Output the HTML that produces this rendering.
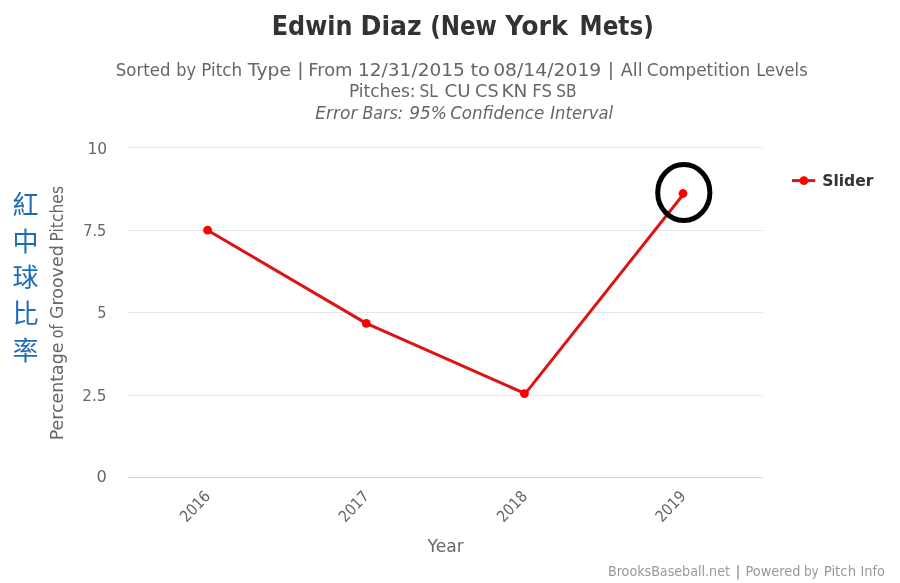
<!DOCTYPE html>
<html>
<head>
<meta charset="utf-8">
<style>
html,body{margin:0;padding:0;background:#fff;}
body{width:900px;height:583px;overflow:hidden;}
svg{display:block;will-change:transform;}
text{font-family:"DejaVu Sans","Liberation Sans",sans-serif;}
.cjk{font-family:"Noto Sans CJK TC","Noto Sans CJK SC",sans-serif;}
</style>
</head>
<body>
<svg width="900" height="583" viewBox="0 0 900 583">
<rect x="0" y="0" width="900" height="583" fill="#ffffff"/>
<!-- title -->
<text y="34.7" font-size="26.8" fill="#333333" font-weight="bold"><tspan x="271.75" textLength="80.70" lengthAdjust="spacingAndGlyphs">Edwin</tspan> <tspan x="360.53" textLength="61.19" lengthAdjust="spacingAndGlyphs">Diaz</tspan> <tspan x="430.14" textLength="66.79" lengthAdjust="spacingAndGlyphs">(New</tspan> <tspan x="505.25" textLength="62.61" lengthAdjust="spacingAndGlyphs">York</tspan> <tspan x="579.62" textLength="74.13" lengthAdjust="spacingAndGlyphs">Mets)</tspan></text>
<!-- subtitle -->
<text y="75.5" font-size="17.3" fill="#666666"><tspan x="115.83" textLength="54.56" lengthAdjust="spacingAndGlyphs">Sorted</tspan> <tspan x="176.35" textLength="19.76" lengthAdjust="spacingAndGlyphs">by</tspan> <tspan x="201.22" textLength="40.90" lengthAdjust="spacingAndGlyphs">Pitch</tspan> <tspan x="247.89" textLength="43.08" lengthAdjust="spacingAndGlyphs">Type</tspan> <tspan x="297.25" textLength="6.34" lengthAdjust="spacingAndGlyphs">|</tspan> <tspan x="308.21" textLength="44.37" lengthAdjust="spacingAndGlyphs">From</tspan> <tspan x="357.96" textLength="106.90" lengthAdjust="spacingAndGlyphs">12/31/2015</tspan> <tspan x="470.52" textLength="19.43" lengthAdjust="spacingAndGlyphs">to</tspan> <tspan x="493.18" textLength="108.11" lengthAdjust="spacingAndGlyphs">08/14/2019</tspan> <tspan x="607.85" textLength="6.34" lengthAdjust="spacingAndGlyphs">|</tspan> <tspan x="620.82" textLength="21.84" lengthAdjust="spacingAndGlyphs">All</tspan> <tspan x="646.87" textLength="103.46" lengthAdjust="spacingAndGlyphs">Competition</tspan> <tspan x="756.17" textLength="51.47" lengthAdjust="spacingAndGlyphs">Levels</tspan></text>
<text y="97.2" font-size="17.3" fill="#666666"><tspan x="348.89" textLength="66.72" lengthAdjust="spacingAndGlyphs">Pitches:</tspan> <tspan x="419.60" textLength="18.30" lengthAdjust="spacingAndGlyphs">SL</tspan> <tspan x="444.59" textLength="26.17" lengthAdjust="spacingAndGlyphs">CU</tspan> <tspan x="475.13" textLength="23.61" lengthAdjust="spacingAndGlyphs">CS</tspan> <tspan x="501.45" textLength="25.98" lengthAdjust="spacingAndGlyphs">KN</tspan> <tspan x="532.25" textLength="19.72" lengthAdjust="spacingAndGlyphs">FS</tspan> <tspan x="556.20" textLength="20.29" lengthAdjust="spacingAndGlyphs">SB</tspan></text>
<text y="118.6" font-size="17.3" fill="#666666" font-style="italic"><tspan x="315.27" textLength="42.13" lengthAdjust="spacingAndGlyphs">Error</tspan> <tspan x="362.40" textLength="40.82" lengthAdjust="spacingAndGlyphs">Bars:</tspan> <tspan x="409.14" textLength="37.75" lengthAdjust="spacingAndGlyphs">95%</tspan> <tspan x="450.13" textLength="94.20" lengthAdjust="spacingAndGlyphs">Confidence</tspan> <tspan x="550.29" textLength="62.69" lengthAdjust="spacingAndGlyphs">Interval</tspan></text>

<!-- grid -->
<g stroke="#e6e6e6" stroke-width="1" fill="none">
<path d="M128 147.5H763"/>
<path d="M128 230.5H763"/>
<path d="M128 312.5H763"/>
<path d="M128 395.5H763"/>
</g>
<path d="M128 477.5H763" stroke="#d0d6dc" stroke-width="1"/>

<!-- y labels -->
<text x="87.40" y="154.3" font-size="16" fill="#666666" textLength="19.64" lengthAdjust="spacingAndGlyphs">10</text>
<text x="83.24" y="236" font-size="16" fill="#666666" textLength="23.10" lengthAdjust="spacingAndGlyphs">7.5</text>
<text x="97.21" y="318" font-size="16" fill="#666666" textLength="9.24" lengthAdjust="spacingAndGlyphs">5</text>
<text x="82.26" y="401" font-size="16" fill="#666666" textLength="24.25" lengthAdjust="spacingAndGlyphs">2.5</text>
<text x="96.64" y="482.2" font-size="16" fill="#666666" textLength="10.33" lengthAdjust="spacingAndGlyphs">0</text>

<!-- y title -->
<g transform="translate(62.7,438.5) rotate(-90)">
<text y="0" font-size="17" fill="#666666"><tspan x="-1.74" textLength="97.72" lengthAdjust="spacingAndGlyphs">Percentage</tspan> <tspan x="100.32" textLength="13.75" lengthAdjust="spacingAndGlyphs">of</tspan> <tspan x="119.44" textLength="73.82" lengthAdjust="spacingAndGlyphs">Grooved</tspan> <tspan x="196.94" textLength="55.57" lengthAdjust="spacingAndGlyphs">Pitches</tspan></text>
</g>

<!-- chinese -->
<g class="cjk" font-size="26" fill="#1b6db5" text-anchor="middle">
<text class="cjk" x="25.5" y="214.3">紅</text>
<text class="cjk" x="25.5" y="250.6">中</text>
<text class="cjk" x="25.5" y="287.2">球</text>
<text class="cjk" x="25.5" y="323.4">比</text>
<text class="cjk" x="25.5" y="359.6">率</text>
</g>

<!-- x labels -->
<g font-size="15.6" fill="#666666" text-anchor="end">
<text transform="translate(211.3,497) rotate(-46.5)" textLength="36" lengthAdjust="spacingAndGlyphs">2016</text>
<text transform="translate(370,497) rotate(-46.5)" textLength="36" lengthAdjust="spacingAndGlyphs">2017</text>
<text transform="translate(528.2,497) rotate(-46.5)" textLength="36" lengthAdjust="spacingAndGlyphs">2018</text>
<text transform="translate(686.7,497) rotate(-46.5)" textLength="36" lengthAdjust="spacingAndGlyphs">2019</text>
</g>

<!-- x title -->
<text y="551.7" font-size="17.4" fill="#666666"><tspan x="427.50" textLength="36.24" lengthAdjust="spacingAndGlyphs">Year</tspan></text>

<!-- series -->
<path d="M207.6 230.2L366.3 323.4L525.2 393.6L684 193.5" stroke="#dc1414" stroke-width="3" fill="none" stroke-linejoin="round" stroke-linecap="round"/>
<g fill="#ff0000">
<circle cx="207.6" cy="230.2" r="4.4"/>
<circle cx="366.3" cy="323.4" r="4.4"/>
<circle cx="524.4" cy="393.6" r="4.4"/>
<circle cx="683" cy="193.5" r="4.4"/>
</g>

<!-- annotation circle -->
<ellipse cx="683.8" cy="192.5" rx="26.1" ry="28" stroke="#000" stroke-width="5" fill="none"/>

<!-- legend -->
<path d="M792 180.6H815.2" stroke="#dc1414" stroke-width="3"/>
<circle cx="803.9" cy="180.6" r="4.4" fill="#ff0000"/>
<text y="186.1" font-size="16" fill="#333333" font-weight="bold"><tspan x="822.21" textLength="51.14" lengthAdjust="spacingAndGlyphs">Slider</tspan></text>

<!-- credits -->
<text y="575.9" font-size="13.4" fill="#999999"><tspan x="607.93" textLength="122.04" lengthAdjust="spacingAndGlyphs">BrooksBaseball.net</tspan> <tspan x="735.24" textLength="5.55" lengthAdjust="spacingAndGlyphs">|</tspan> <tspan x="745.41" textLength="54.98" lengthAdjust="spacingAndGlyphs">Powered</tspan> <tspan x="803.92" textLength="14.76" lengthAdjust="spacingAndGlyphs">by</tspan> <tspan x="823.67" textLength="32.46" lengthAdjust="spacingAndGlyphs">Pitch</tspan> <tspan x="860.41" textLength="24.47" lengthAdjust="spacingAndGlyphs">Info</tspan></text>
</svg>
</body>
</html>
